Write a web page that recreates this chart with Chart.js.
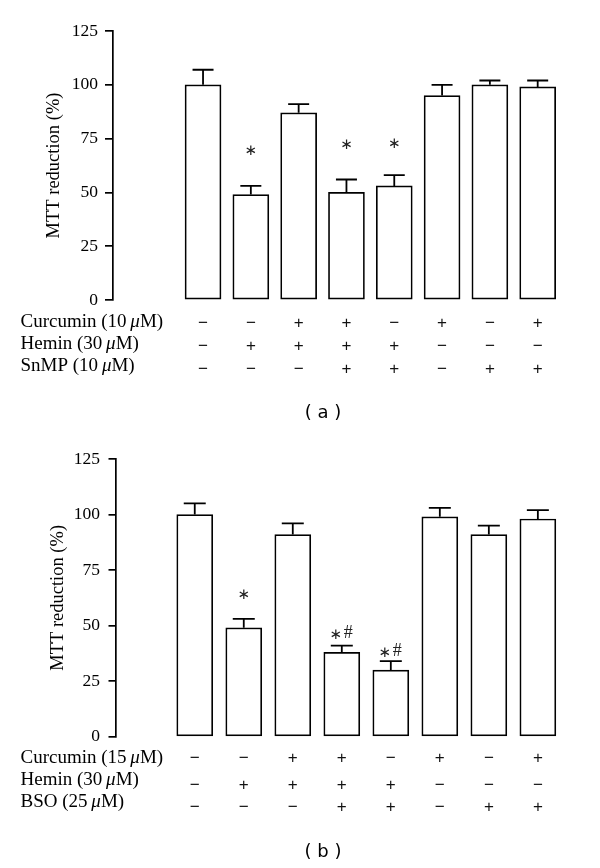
<!DOCTYPE html>
<html>
<head>
<meta charset="utf-8">
<script src="https://cdn.jsdelivr.net/npm/chart.js@4/dist/chart.umd.min.js"></script>
<style>
html,body{margin:0;padding:0;background:#fff;}
#wrap{position:relative;width:600px;height:868px;overflow:hidden;}
canvas{position:absolute;left:0;}
</style>
</head>
<body>
<div id="wrap">
<canvas id="ca" width="600" height="434" style="top:0px"></canvas>
<canvas id="cb" width="600" height="434" style="top:434px"></canvas>
</div>
<script>
// ---------- Panel (a) data ----------
const yTicks = [0, 25, 50, 75, 100, 125];
const rowNamesA = ['Curcumin (10\u2009\u03bcM)', 'Hemin (30\u2009\u03bcM)', 'SnMP (10\u2009\u03bcM)'];
const curcuminA = ['\u2212', '\u2212', '+', '+', '\u2212', '+', '\u2212', '+'];
const heminA    = ['\u2212', '+', '+', '+', '+', '\u2212', '\u2212', '\u2212'];
const snmpA     = ['\u2212', '\u2212', '\u2212', '+', '+', '\u2212', '+', '+'];
const meansA    = [100, 49, 87, 50, 53, 95, 100, 99];
const errA      = [7, 4, 4, 6, 5, 5, 2, 3];
const marksA    = ['', '*', '', '*', '*', '', '', ''];
const markYA    = [null, 69.7, null, 72.5, 73, null, null, null];

// ---------- Panel (b) data ----------
const rowNamesB = ['Curcumin (15\u2009\u03bcM)', 'Hemin (30\u2009\u03bcM)', 'BSO (25\u2009\u03bcM)'];
const curcuminB = ['\u2212', '\u2212', '+', '+', '\u2212', '+', '\u2212', '+'];
const heminB    = ['\u2212', '+', '+', '+', '+', '\u2212', '\u2212', '\u2212'];
const bsoB      = ['\u2212', '\u2212', '\u2212', '+', '+', '\u2212', '+', '+'];
const meansB    = [100, 49, 91, 38, 30, 99, 91, 98];
const errB      = [5, 4, 5, 3, 4, 4, 4, 4];
const marksB    = ['', '*', '', '*#', '*#', '', '', ''];
const markYB    = [null, 64, null, 46, 38, null, null, null];

const SERIF = '"Liberation Serif", "Times New Roman", serif';

function drawRich(ctx, text, x, y, size) {
  // draws text with the greek mu in italic
  const parts = text.split('\u03bc');
  let cx = x;
  parts.forEach((p, i) => {
    ctx.font = size + 'px ' + SERIF;
    ctx.fillText(p, cx, y);
    cx += ctx.measureText(p).width;
    if (i < parts.length - 1) {
      ctx.font = 'italic ' + size + 'px ' + SERIF;
      ctx.fillText('\u03bc', cx, y);
      cx += ctx.measureText('\u03bc').width;
    }
  });
}

function makeChart(id, p) {
  const data = p.means.map((v, i) => ({x: i, y: v}));
  const extras = {
    id: 'extras',
    afterDatasetsDraw(chart) {
      const ctx = chart.ctx;
      const xs = chart.scales.x, ys = chart.scales.y;
      ctx.save();
      ctx.strokeStyle = '#000';
      ctx.lineWidth = 1.8;
      p.means.forEach((m, i) => {
        const x = xs.getPixelForValue(i);
        const y0 = ys.getPixelForValue(m);
        const y1 = ys.getPixelForValue(m + p.err[i]);
        ctx.beginPath();
        ctx.moveTo(x, y0);
        ctx.lineTo(x, y1);
        ctx.moveTo(x - p.capHalf, y1);
        ctx.lineTo(x + p.capHalf, y1);
        ctx.stroke();
      });
      // significance marks
      ctx.fillStyle = '#222';
      ctx.textAlign = 'center';
      ctx.textBaseline = 'middle';
      p.marks.forEach((mk, i) => {
        if (!mk) return;
        const x = xs.getPixelForValue(i);
        const y = ys.getPixelForValue(p.markY[i]);
        const hasHash = mk.indexOf('#') >= 0;
        ctx.font = '15px "DejaVu Sans", sans-serif';
        ctx.fillText('\u2217', hasHash ? x - 6 : x, y + 1);
        if (hasHash) {
          ctx.font = '18px ' + SERIF;
          ctx.fillText('#', x + 6.5, y - 1);
        }
      });
      // treatment table
      const bottom = chart.chartArea.bottom;
      ctx.fillStyle = '#000';
      ctx.textAlign = 'left';
      p.rowNames.forEach((name, r) => {
        drawRich(ctx, name, p.headerX, bottom + p.headerOff[r], 19);
      });
      ctx.textAlign = 'center';
      ctx.font = '17px "Liberation Sans", Arial, sans-serif';
      ctx.fillStyle = '#111';
      p.rows.forEach((row, r) => {
        row.forEach((s, i) => {
          ctx.fillText(s, xs.getPixelForValue(i), bottom + p.signOff[r]);
        });
      });
      // panel label
      ctx.fillStyle = '#000';
      ctx.font = '18px "DejaVu Sans", sans-serif';
      ctx.fillText('( ' + p.panel + ' )', p.panelX, p.panelY);
      ctx.restore();
    }
  };
  return new Chart(document.getElementById(id), {
    type: 'bar',
    data: {
      datasets: [{
        data: data,
        backgroundColor: '#fff',
        borderColor: '#000',
        borderWidth: 1.7,
        borderSkipped: false,
        barThickness: 36
      }]
    },
    options: {
      responsive: false,
      animation: false,
      events: [],
      layout: {padding: {top: p.top, bottom: p.bottom, left: 0, right: 10}},
      plugins: {legend: {display: false}, tooltip: {enabled: false}},
      scales: {
        x: {
          type: 'linear',
          display: false,
          min: p.xmin,
          max: p.xmax
        },
        y: {
          min: 0,
          max: 125,
          afterBuildTicks(scale) { scale.ticks = yTicks.map(v => ({value: v})); },
          afterFit(scale) { scale.width = p.axisW; },
          border: {display: true, color: '#000', width: 1.7},
          grid: {drawOnChartArea: false, drawTicks: true, tickLength: p.tickLen, color: '#000', lineWidth: 1.7},
          ticks: {color: '#000', padding: p.tickPad, font: {family: SERIF, size: 17.5}},
          title: {
            display: true,
            text: 'MTT reduction (%)',
            color: '#000',
            font: {family: SERIF, size: 18.5},
            padding: {top: p.titlePad, bottom: 0}
          }
        }
      }
    },
    plugins: [extras]
  });
}

makeChart('ca', {
  means: meansA, err: errA, marks: marksA, markY: markYA,
  rowNames: rowNamesA, rows: [curcuminA, heminA, snmpA],
  top: 31, bottom: 134, axisW: 113, xmin: -1.329, xmax: 7.54,
  tickLen: 8, tickPad: 7, titlePad: 43, capHalf: 10.5,
  headerX: 20.5, headerOff: [22, 44, 66], signOff: [23, 46, 69],
  panel: 'a', panelX: 323, panelY: 413
});

makeChart('cb', {
  means: meansB, err: errB, marks: marksB, markY: markYB,
  rowNames: rowNamesB, rows: [curcuminB, heminB, bsoB],
  top: 25, bottom: 131.3, axisW: 115.5, xmin: -1.079, xmax: 7.526,
  tickLen: 7, tickPad: 8.5, titlePad: 47, capHalf: 11,
  headerX: 20.5, headerOff: [21.6, 43.3, 65], signOff: [21.6, 49, 71],
  panel: 'b', panelX: 323, panelY: 418
});
</script>
</body>
</html>
